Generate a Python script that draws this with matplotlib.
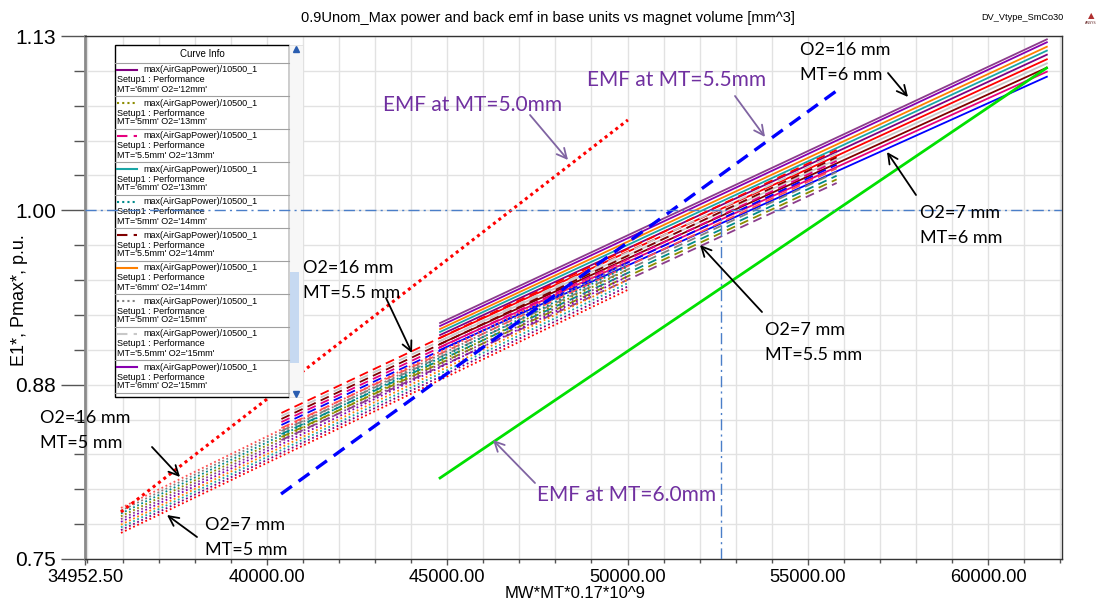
import matplotlib
matplotlib.use("Agg")
import matplotlib.pyplot as plt
from matplotlib.lines import Line2D
from matplotlib.patches import Rectangle, FancyArrowPatch

# ---------------- data ----------------
o2_values = [7, 8, 9, 10, 11, 12, 13, 14, 15, 16]
mt_values = [5.0, 5.5, 6.0]

mt5_x = [35950, 50000]
mt5_y_start = [0.7687, 0.7707, 0.7727, 0.7746, 0.7766, 0.7786, 0.7806, 0.7826, 0.7846, 0.7866]
mt5_y_end = [0.9429, 0.9453, 0.9477, 0.9501, 0.9525, 0.9549, 0.9573, 0.9597, 0.9621, 0.9644]

mt55_x = [40400, 55800]
mt55_y_start = [0.8353, 0.8375, 0.8396, 0.8418, 0.8439, 0.8461, 0.8482, 0.8504, 0.8525, 0.8547]
mt55_y_end = [1.0196, 1.0222, 1.0248, 1.0275, 1.0301, 1.0327, 1.0354, 1.0380, 1.0407, 1.0433]

mt6_x = [44800, 61630]
mt6_y_start = [0.8999, 0.9020, 0.9042, 0.9063, 0.9085, 0.9106, 0.9128, 0.9149, 0.9171, 0.9192]
mt6_y_end = [1.0958, 1.0994, 1.1023, 1.1054, 1.1083, 1.1116, 1.1145, 1.1173, 1.1205, 1.1226]

emf_mt5_x = [35950, 50010]
emf_mt5_y = [0.7837, 1.0648]
emf_mt55_x = [40390, 55830]
emf_mt55_y = [0.7966, 1.0863]
emf_mt6_x = [44800, 61620]
emf_mt6_y = [0.8081, 1.1020]

ref_y = 1.0
ref_x = 52600

x_ticks = [34952.5, 40000, 45000, 50000, 55000, 60000]
x_tick_labels = ["34952.50", "40000.00", "45000.00", "50000.00", "55000.00", "60000.00"]
y_ticks = [0.75, 0.875, 1.0, 1.125]
y_tick_labels = ["0.75", "0.88", "1.00", "1.13"]

# ---------------- styles ----------------
palette = ['#ff0000', '#8c3c8c', '#0000ff', '#800080', '#8c8c00', '#e6007e', '#1aa6a6',
           '#008b8b', '#800000', '#ff8000', '#808080', '#c8c8c8', '#8800b0', '#ff5050']
family_style = {5.0: (0, (1, 1.5)), 5.5: (0, (5, 3)), 6.0: '-'}
families = {5.0: (mt5_x, mt5_y_start, mt5_y_end),
            5.5: (mt55_x, mt55_y_start, mt55_y_end),
            6.0: (mt6_x, mt6_y_start, mt6_y_end)}

W, H = 1101, 602
fig = plt.figure(figsize=(W / 100, H / 100), dpi=100)
ax = fig.add_axes([85 / W, 1 - 559 / H, (1062 - 85) / W, (559 - 36) / H])

def fx(px):
    return px / W

def fy(py):
    return 1 - py / H

curves = []
for i, o2 in enumerate(o2_values):
    for k, mt in enumerate(mt_values):
        idx = i * 3 + k
        xs, ys0, ys1 = families[mt]
        color = palette[idx % len(palette)]
        ax.plot(xs, [ys0[i], ys1[i]], color=color, linestyle=family_style[mt],
                lw=1.3, zorder=3)
        curves.append((o2, mt, color))

ax.plot(emf_mt5_x, emf_mt5_y, color='#ff0000', linestyle=(0, (1, 1.2)), lw=2.2, zorder=4)
ax.plot(emf_mt55_x, emf_mt55_y, color='#0000ff', linestyle=(0, (4, 2.5)), lw=2.4, zorder=4)
ax.plot(emf_mt6_x, emf_mt6_y, color='#00e000', linestyle='-', lw=2.0, zorder=4)

# reference lines (drawn above legend)
ax.axhline(ref_y, color='#4a7ec8', linestyle=(0, (8, 3, 1.5, 3)), lw=1.0, zorder=9)
ax.plot([ref_x, ref_x], [y_ticks[0], ref_y], color='#4a7ec8',
        linestyle=(0, (8, 3, 1.5, 3)), lw=1.0, zorder=9)

ax.set_xlim(34952.5, 62050)
ax.set_ylim(0.75, 1.125)
ax.set_xticks(x_ticks)
ax.set_xticklabels(x_tick_labels)
ax.set_xticks(list(range(35000, 62001, 1000)), minor=True)
ax.set_yticks(y_ticks)
ax.set_yticklabels(y_tick_labels)
ax.set_yticks([0.75 + 0.025 * j for j in range(16)], minor=True)
ax.grid(True, which='both', color='#e2e2e2', lw=1.0, zorder=0)
ax.set_axisbelow(True)
ax.tick_params(axis='y', which='major', length=17, width=1.0, color='#555555',
               labelsize=15, pad=4, labelfontfamily='Liberation Sans')
ax.tick_params(axis='y', which='minor', length=8, width=1.0, color='#555555')
ax.tick_params(axis='x', which='major', length=4, width=1.0, color='#555555',
               labelsize=13.2, pad=3, labelfontfamily='Liberation Sans')
ax.tick_params(axis='x', which='minor', length=3, width=1.0, color='#555555')
ax.spines['left'].set_color('#8a8a8a')
ax.spines['left'].set_linewidth(2.0)
for s in ['bottom', 'top', 'right']:
    ax.spines[s].set_color('#333333')
    ax.spines[s].set_linewidth(1.0)

fig.text(fx(575), fy(594), "MW*MT*0.17*10^9", ha='center', va='center', fontsize=12,
         family='Liberation Sans')
fig.text(fx(20), fy(300), "E1*, Pmax*, p.u.", ha='center', va='center', fontsize=13,
         rotation=90, family='Liberation Sans')

fig.text(fx(548), fy(18), "0.9Unom_Max power and back emf in base units vs magnet volume [mm^3]",
         ha='center', va='center', fontsize=10.5, family='Liberation Sans')
fig.text(fx(1022), fy(18), "DV_Vtype_SmCo30", ha='center', va='center', fontsize=6.6,
         family='Liberation Sans')
fig.text(fx(1091), fy(16), "\u25b2", ha='center', va='center', fontsize=6, color='#b03030')
fig.text(fx(1091), fy(23), "ANSYS", ha='center', va='center', fontsize=2.5, color='#602020')

# ---------------- legend (Curve Info) ----------------
tf = fig.transFigure
L, R, T, B = 115, 289, 45, 397
ax.add_patch(Rectangle((fx(L), fy(B)), fx(R) - fx(L), fy(T) - fy(B), transform=tf,
                       facecolor='white', edgecolor='black', lw=1.0, zorder=6, clip_on=False))
ax.add_patch(Rectangle((fx(R), fy(B)), fx(303) - fx(R), fy(T) - fy(B), transform=tf,
                       facecolor='#f7f7f7', edgecolor='#e0e0e0', lw=0.6, zorder=6, clip_on=False))
ax.add_patch(Rectangle((fx(290), fy(363)), fx(299) - fx(290), fy(272) - fy(363), transform=tf,
                       facecolor='#c6d9f1', edgecolor='none', zorder=7, clip_on=False))
ax.add_line(Line2D([fx(296)], [fy(49)], marker='^', markersize=4, color='#2a5db0',
                   transform=tf, zorder=8, clip_on=False))
ax.add_line(Line2D([fx(296)], [fy(394)], marker='v', markersize=4, color='#2a5db0',
                   transform=tf, zorder=8, clip_on=False))
ax.text(fx(202), fy(54), "Curve Info", transform=tf, ha='center', va='center', fontsize=7,
        family='Liberation Sans', zorder=8, clip_on=False)
ax.add_line(Line2D([fx(L), fx(R)], [fy(63), fy(63)], color='#a0a0a0', lw=0.8,
                   transform=tf, zorder=7, clip_on=False))
for j, (o2, mt, color) in enumerate(curves[17:27]):
    top = 63 + 33 * j
    ax.add_line(Line2D([fx(117), fx(137)], [fy(top + 7), fy(top + 7)], color=color,
                       linestyle=family_style[mt], lw=1.5, transform=tf, zorder=8, clip_on=False))
    ax.text(fx(143), fy(top + 7), "max(AirGapPower)/10500_1", transform=tf, va='center',
            fontsize=6.5, family='Liberation Sans', zorder=8, clip_on=False)
    ax.text(fx(117), fy(top + 17), "Setup1 : Performance", transform=tf, va='center',
            fontsize=6.5, family='Liberation Sans', zorder=8, clip_on=False)
    ax.text(fx(117), fy(top + 26), f"MT='{mt:g}mm' O2='{o2}mm'", transform=tf, va='center',
            fontsize=6.5, family='Liberation Sans', zorder=8, clip_on=False)
    ax.add_line(Line2D([fx(L), fx(R)], [fy(top + 33), fy(top + 33)], color='#a0a0a0', lw=0.8,
                       transform=tf, zorder=7, clip_on=False))

# ---------------- annotations ----------------
purple_txt = '#7030a0'
purple_arrow = '#8064a2'
notes = [
    ("EMF at MT=5.0mm", 383, 105, None, purple_txt, (530, 115), (568, 160), purple_arrow, 15),
    ("EMF at MT=5.5mm", 587, 80, None, purple_txt, (735, 96), (765, 137), purple_arrow, 15),
    ("EMF at MT=6.0mm", 537, 495, None, purple_txt, (535, 483), (493, 440), purple_arrow, 15),
    ("O2=16 mm", 800, 50, "MT=6 mm", 'black', (888, 73), (908, 97), 'black', 13),
    ("O2=7 mm", 920, 213, "MT=6 mm", 'black', (916, 195), (887, 152), 'black', 13),
    ("O2=7 mm", 765, 330, "MT=5.5 mm", 'black', (762, 312), (700, 245), 'black', 13),
    ("O2=16 mm", 303, 268, "MT=5.5 mm", 'black', (386, 298), (412, 353), 'black', 13),
    ("O2=16 mm", 40, 418, "MT=5 mm", 'black', (152, 447), (180, 477), 'black', 13),
    ("O2=7 mm", 205, 525, "MT=5 mm", 'black', (197, 537), (167, 515), 'black', 13),
]
for t1, x0, y0, t2, tc, tail, head, ac, fs in notes:
    fig.text(fx(x0), fy(y0), t1, ha='left', va='center', fontsize=fs, color=tc,
             family='Lato', zorder=10)
    if t2:
        fig.text(fx(x0), fy(y0 + 25), t2, ha='left', va='center', fontsize=fs, color=tc,
                 family='Lato', zorder=10)
    arr = FancyArrowPatch((fx(tail[0]), fy(tail[1])), (fx(head[0]), fy(head[1])),
                          transform=tf, arrowstyle='->,head_length=7,head_width=3.5',
                          color=ac, lw=1.3, zorder=10, shrinkA=0, shrinkB=0)
    fig.patches.append(arr)

fig.savefig("out.png", dpi=100)
